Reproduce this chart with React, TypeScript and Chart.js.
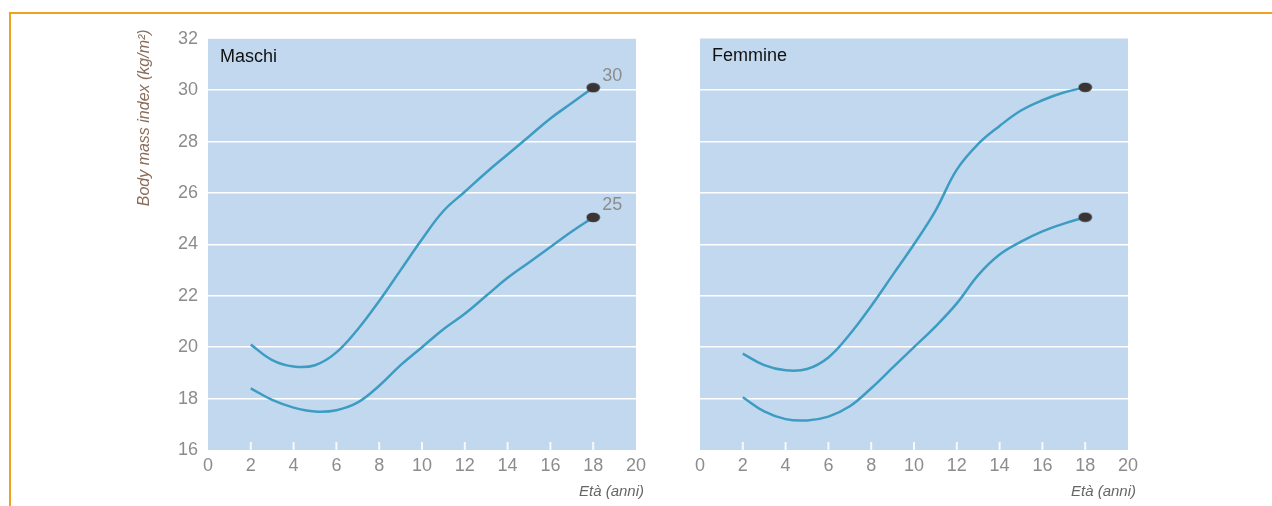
import React, { useEffect, useRef } from "react";
import { Chart, registerables } from "chart.js";

Chart.register(...registerables);

const AGES = [2, 3, 4, 5, 6, 7, 8, 9, 10, 11, 12, 13, 14, 15, 16, 17, 18];
const MASCHI_30 = [20.1, 19.5, 19.25, 19.3, 19.8, 20.7, 21.8, 23.0, 24.2, 25.3, 26.05, 26.8, 27.5, 28.2, 28.9, 29.5, 30.1];
const MASCHI_25 = [18.4, 17.95, 17.65, 17.5, 17.55, 17.85, 18.5, 19.3, 20.0, 20.7, 21.3, 22.0, 22.7, 23.3, 23.9, 24.5, 25.05];
const FEMMINE_30 = [19.75, 19.3, 19.1, 19.15, 19.6, 20.5, 21.6, 22.8, 24.0, 25.3, 26.9, 27.9, 28.6, 29.2, 29.6, 29.9, 30.1];
const FEMMINE_25 = [18.05, 17.5, 17.2, 17.15, 17.3, 17.7, 18.4, 19.2, 20.0, 20.8, 21.7, 22.8, 23.6, 24.1, 24.5, 24.8, 25.05];
const END_LABELS = ["30", "25"];
const PANEL_TITLES = ["Maschi", "Femmine"];
const Y_TITLE = "Body mass index (kg/m²)";
const X_TITLE = "Età (anni)";

const FONT = "'Liberation Sans', Arial, sans-serif";
const LINE_COLOR = "#3d9cc2";
const BG = "#c2d8ee";
const TICK_GRAY = "#8c8c8c";

function makeDot(): HTMLCanvasElement {
  const c = document.createElement("canvas");
  c.width = 15;
  c.height = 11;
  const g = c.getContext("2d")!;
  g.fillStyle = "#3b3434";
  g.beginPath();
  g.ellipse(7.5, 5.5, 6.8, 4.8, 0, 0, Math.PI * 2);
  g.fill();
  return c;
}

const annotPlugin = {
  id: "annot",
  beforeDraw(chart: any) {
    const { ctx, chartArea: a } = chart;
    ctx.save();
    ctx.fillStyle = BG;
    ctx.fillRect(a.left, a.top, a.right - a.left, a.bottom - a.top);
    ctx.restore();
  },
  beforeDatasetsDraw(chart: any) {
    const { ctx, chartArea: a, scales } = chart;
    ctx.save();
    ctx.strokeStyle = "rgba(255,255,255,0.85)";
    ctx.lineWidth = 2;
    for (let v = 2; v <= 18; v += 2) {
      const x = scales.x.getPixelForValue(v);
      ctx.beginPath();
      ctx.moveTo(x, a.bottom);
      ctx.lineTo(x, a.bottom - 8);
      ctx.stroke();
    }
    ctx.restore();
  },
  afterDraw(chart: any, _args: any, opts: any) {
    const { ctx, chartArea: a } = chart;
    ctx.save();
    ctx.fillStyle = "#111";
    ctx.font = `18px ${FONT}`;
    ctx.textAlign = "left";
    ctx.textBaseline = "middle";
    ctx.fillText(opts.title, a.left + 12, a.top + 18);
    ctx.fillStyle = "#666";
    ctx.font = `italic 15px ${FONT}`;
    ctx.textAlign = "right";
    ctx.fillText(X_TITLE, a.right + 8, a.bottom + 42);
    if (opts.yTitle) {
      ctx.save();
      ctx.translate(a.left - 63, a.top + 79);
      ctx.rotate(-Math.PI / 2);
      ctx.fillStyle = "#8a6e5c";
      ctx.font = `italic 16px 'Liberation Sans Narrow', ${FONT}`;
      ctx.textAlign = "center";
      ctx.fillText(opts.yTitle, 0, 0);
      ctx.restore();
    }
    if (opts.endLabels) {
      ctx.fillStyle = TICK_GRAY;
      ctx.font = `18px ${FONT}`;
      ctx.textAlign = "left";
      chart.data.datasets.forEach((_ds: any, i: number) => {
        const meta = chart.getDatasetMeta(i);
        const pt = meta.data[meta.data.length - 1];
        ctx.fillText(opts.endLabels[i], pt.x + 9, pt.y - 12);
      });
    }
    ctx.restore();
  },
};

function buildChart(
  canvas: HTMLCanvasElement,
  series: number[][],
  opts: {
    title: string;
    yTitle?: string;
    endLabels?: string[];
    leftWidth: number;
    rightPad: number;
    topPad: number;
    xHeight: number;
    showY: boolean;
  }
) {
  const dot = makeDot();
  const last = AGES.length - 1;
  return new Chart(canvas, {
    type: "line",
    data: {
      datasets: series.map((s) => ({
        data: AGES.map((x, i) => ({ x, y: s[i] })),
        borderColor: LINE_COLOR,
        borderWidth: 2.5,
        fill: false,
        tension: 0.4,
        pointRadius: (c: any) => (c.dataIndex === last ? 6 : 0),
        pointStyle: (c: any) => (c.dataIndex === last ? dot : "circle"),
        pointHoverRadius: 0,
      })),
    },
    options: {
      animation: false,
      responsive: false,
      events: [],
      layout: { padding: { top: opts.topPad, right: opts.rightPad, left: 0, bottom: 0 } },
      plugins: {
        legend: { display: false },
        tooltip: { enabled: false },
        annot: { title: opts.title, yTitle: opts.yTitle, endLabels: opts.endLabels },
      } as any,
      scales: {
        x: {
          type: "linear",
          min: 0,
          max: 20,
          ticks: {
            stepSize: 2,
            color: TICK_GRAY,
            font: { family: FONT, size: 18 },
            padding: 5,
            maxRotation: 0,
          },
          grid: { display: false, drawTicks: false },
          border: { display: false },
          afterFit: (s: any) => {
            s.height = opts.xHeight;
          },
        },
        y: {
          type: "linear",
          min: 16,
          max: 32,
          ticks: {
            stepSize: 2,
            display: opts.showY,
            color: TICK_GRAY,
            font: { family: FONT, size: 18 },
            padding: 10,
          },
          grid: {
            drawTicks: false,
            lineWidth: 1.5,
            color: (c: any) => (c.tick && (c.tick.value === 16 || c.tick.value === 32) ? "rgba(0,0,0,0)" : "#ffffff"),
          },
          border: { display: false },
          afterFit: (s: any) => {
            s.width = opts.leftWidth;
          },
        },
      },
    },
    plugins: [annotPlugin],
  } as any);
}

export default function App() {
  const leftRef = useRef<HTMLCanvasElement>(null);
  const rightRef = useRef<HTMLCanvasElement>(null);

  useEffect(() => {
    const c1 = buildChart(leftRef.current!, [MASCHI_30, MASCHI_25], {
      title: PANEL_TITLES[0],
      yTitle: Y_TITLE,
      endLabels: END_LABELS,
      leftWidth: 88,
      rightPad: 24,
      topPad: 17,
      xHeight: 54,
      showY: true,
    });
    const c2 = buildChart(rightRef.current!, [FEMMINE_30, FEMMINE_25], {
      title: PANEL_TITLES[1],
      leftWidth: 40,
      rightPad: 72,
      topPad: 18.5,
      xHeight: 56,
      showY: false,
    });
    return () => {
      c1.destroy();
      c2.destroy();
    };
  }, []);

  return (
    <div style={{ position: "absolute", left: 0, top: 0, width: 1272, height: 506, overflow: "hidden", background: "#fff" }}>
      <div
        style={{
          position: "absolute",
          left: 9,
          top: 12,
          width: 1300,
          height: 600,
          borderTop: "2px solid #eea21f",
          borderLeft: "2px solid #eea21f",
        }}
      />
      <canvas ref={leftRef} width={540} height={486} style={{ position: "absolute", left: 120, top: 18, width: 540, height: 486 }} />
      <canvas ref={rightRef} width={540} height={486} style={{ position: "absolute", left: 660, top: 20, width: 540, height: 486 }} />
    </div>
  );
}
